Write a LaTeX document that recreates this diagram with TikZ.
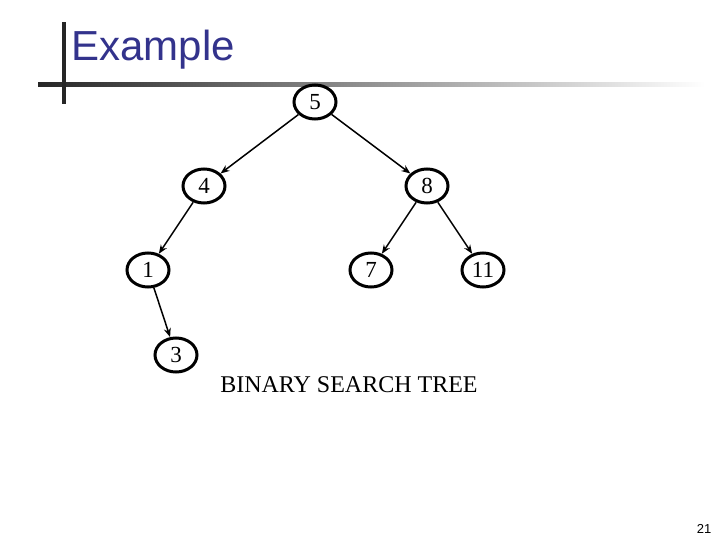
\documentclass[tikz,border=0pt]{standalone}
\usepackage{fontspec}
\setmainfont{Liberation Serif}
\newfontfamily\titlefont{Liberation Sans}
\usetikzlibrary{shapes.geometric,arrows.meta}
\definecolor{titleblue}{RGB}{51,51,140}
\begin{document}
\begin{tikzpicture}[x=1pt,y=-1pt,
  tn/.style={ellipse,draw,line width=3pt,minimum width=42pt,minimum height=34pt,inner sep=0pt,font=\fontsize{23}{25}\selectfont},
  edge/.style={line width=1.5pt,-{Stealth[length=9pt,width=7pt]}}]
\useasboundingbox (0,0) rectangle (720,540);
\shade[left color=black!85,right color=white] (38,83) rectangle (705,87);
\fill[black!85] (62,22) rectangle (66,104);
\node[anchor=west,text=titleblue,font=\titlefont\fontsize{42}{46}\selectfont] (title) at (68,50) {Example};
\node[tn] (n5) at (315,102) {5};
\node[tn] (n4) at (204,186) {4};
\node[tn] (n8) at (427,186) {8};
\node[tn] (n1) at (148,270) {1};
\node[tn] (n7) at (371,270) {7};
\node[tn] (n11) at (483,270) {11};
\node[tn] (n3) at (176,355) {3};
\draw[edge] (n5) -- (n4);
\draw[edge] (n5) -- (n8);
\draw[edge] (n4) -- (n1);
\draw[edge] (n8) -- (n7);
\draw[edge] (n8) -- (n11);
\draw[edge] (n1) -- (n3);
\node[font=\fontsize{24}{26}\selectfont] (cap) at (349,385) {BINARY SEARCH TREE};
\node[font=\titlefont\fontsize{13}{15}\selectfont] (pg) at (704,529) {21};
\end{tikzpicture}
\end{document}
